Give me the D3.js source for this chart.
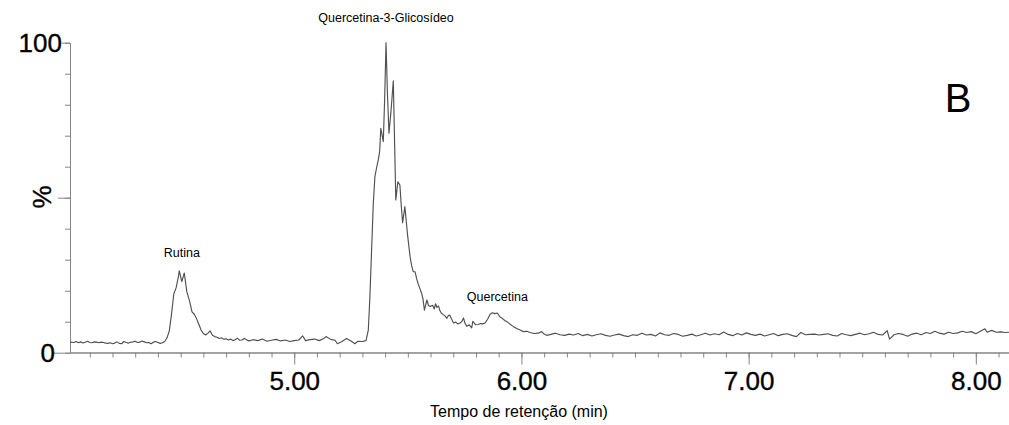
<!DOCTYPE html>
<html>
<head>
<meta charset="utf-8">
<script src="https://cdn.jsdelivr.net/npm/d3@7"></script>
<style>
  body { margin: 0; background: #fff; }
  text { font-family: Arial, "Liberation Sans", sans-serif; fill: #000; }
  .big { stroke: #000; stroke-width: 0.35px; }
</style>
</head>
<body>
<div id="plot"></div>
<script>
// retention time (min) and relative intensity (%)
let times = [
  4.013,4.03,4.04,4.05,4.06,4.07,4.08,4.09,4.10,4.11,4.12,4.13,4.14,4.15,4.16,4.17,4.18,4.19,4.20,4.21,
  4.22,4.23,4.24,4.25,4.26,4.27,4.28,4.29,4.30,4.31,4.32,4.33,4.34,4.35,4.36,4.37,4.38,4.39,4.40,4.41,
  4.42,4.43,4.44,4.45,4.46,4.47,4.48,4.49,4.494,4.505,4.516,4.527,4.54,4.55,4.56,4.57,4.58,4.59,4.60,4.61,
  4.62,4.63,4.64,4.65,4.66,4.67,4.68,4.69,4.70,4.71,4.72,4.73,4.74,4.75,4.76,4.77,4.78,4.79,
  4.80,4.82,4.84,4.86,4.88,4.90,4.92,4.94,4.96,4.98,5.00,5.02,5.037,5.05,5.07,5.09,5.11,5.13,5.14,5.16,
  5.18,5.19,5.21,5.23,5.25,5.267,5.28,5.30,5.316,
  5.326,5.333,5.341,5.348,5.355,5.362,5.370,5.376,5.381,5.392,5.398,5.404,5.410,5.417,5.426,5.436,5.447,5.456,5.465,5.471,
  5.477,5.487,5.498,5.510,5.517,5.524,5.532,5.539,5.546,5.554,5.561,5.567,5.573,5.584,5.591,5.598,5.609,5.616,5.622,5.628,
  5.635,5.641,5.647,5.657,5.664,5.672,5.678,5.684,5.693,5.701,5.710,5.720,5.730,5.738,5.745,5.752,5.760,5.770,5.781,5.786,
  5.799,5.810,5.820,5.830,5.840,5.851,5.862,5.872,5.883,5.894,5.906,5.917,5.928,5.940,5.950,5.965,5.979,5.994,6.008,6.023,
  6.038,6.055,6.074,6.089,6.100,6.111,
  6.13,6.15,6.17,6.19,6.21,6.23,6.25,6.27,6.29,6.31,6.33,6.35,6.37,6.39,6.41,6.43,6.45,6.47,6.49,6.51,
  6.53,6.55,6.57,6.59,6.61,6.63,6.65,6.67,6.69,6.71,6.73,6.75,6.77,6.79,6.81,6.83,6.85,6.87,6.89,6.91,
  6.93,6.95,6.97,6.99,7.01,7.03,7.05,7.07,7.09,7.11,7.13,7.15,7.17,7.19,7.21,7.23,7.25,7.27,7.29,7.31,
  7.33,7.35,7.37,7.39,7.41,7.43,7.45,7.47,7.49,7.51,7.53,7.55,7.57,7.59,7.61,7.62,7.64,7.66,7.68,7.70,
  7.72,7.74,7.76,7.78,7.80,7.82,7.84,7.86,7.88,7.90,7.92,7.94,7.96,7.98,8.00,8.02,8.04,8.05,8.07,8.09,
  8.11,8.13,8.146
];
let intensity = [
  3.4,3.3,3.6,3.2,3.5,3.1,3.4,3.7,3.3,3.2,3.5,3.4,3.2,3.4,3.3,3.1,3.0,3.2,2.9,3.1,
  3.5,3.0,2.9,3.6,3.3,3.1,3.4,3.5,3.7,3.3,3.4,3.8,3.5,3.2,3.3,2.9,3.4,3.6,3.3,3.0,
  3.2,3.6,4.8,7.0,12.5,19.0,20.9,24.5,26.4,22.9,25.7,19.7,16.5,13.2,12.4,11.0,9.2,7.3,6.2,5.7,
  6.3,7.0,5.6,5.2,5.0,4.6,4.8,4.3,4.5,4.1,4.4,3.9,4.2,4.7,4.0,4.1,4.6,4.2,
  3.8,4.2,3.9,4.4,3.7,4.0,4.3,3.8,4.1,3.6,3.9,4.1,5.4,3.9,4.2,4.4,3.9,4.6,5.2,4.3,
  4.0,2.9,3.6,4.6,3.8,2.9,3.7,3.6,3.9,
  7.3,18.0,34.2,48.2,56.8,59.5,62.2,65.0,72.4,68.1,82.0,100,84.0,70.8,78.0,87.7,49.3,55.1,54.1,47.5,
  41.9,47.1,38.5,30.9,28.0,26.1,26.1,23.8,22.1,20.5,19.1,17.2,13.7,17.0,15.2,14.9,15.3,14.1,15.8,14.6,
  15.1,13.6,12.8,12.2,11.8,11.1,11.9,12.2,10.8,9.6,9.9,9.3,9.6,10.1,11.2,9.4,8.5,9.0,8.0,10.1,
  9.0,9.1,9.4,9.3,9.6,10.8,12.4,12.9,12.6,12.8,11.5,11.0,10.3,9.8,9.2,8.4,7.8,7.3,6.8,6.9,
  6.5,6.2,6.3,6.8,6.0,5.6,
  5.9,6.3,5.8,5.6,6.0,5.7,6.2,5.5,5.9,5.4,5.8,6.1,5.6,5.3,5.7,6.0,5.5,5.2,5.8,5.6,
  6.3,5.7,5.9,5.4,6.4,5.8,5.6,6.2,5.9,5.3,5.6,6.0,5.4,5.8,6.3,5.7,6.1,5.8,6.7,5.9,
  5.5,6.2,5.7,6.4,5.9,5.6,6.0,5.4,5.8,6.2,5.5,5.9,6.1,5.6,5.2,6.5,5.8,5.9,6.0,5.7,
  5.9,6.1,5.6,5.4,6.2,5.8,5.5,5.9,6.3,5.8,6.1,6.6,5.9,5.7,7.1,4.4,5.8,6.2,5.9,5.3,
  6.0,6.3,5.8,6.5,6.2,6.9,6.3,6.0,6.6,6.2,6.4,6.9,6.5,6.8,6.1,6.9,7.7,6.6,7.2,6.6,
  6.7,6.5,6.6
];

let xMinorTicks = d3.range(41, 82).map(d => d / 10);
let xMajorTicks = [5, 6, 7, 8];
let yMinorTicks = [0, 10, 20, 30, 40, 50, 60, 70, 80, 90, 100];
let yTickLabels = [0, 100];

let peakNames = ["Rutina", "Quercetina-3-Glicosídeo", "Quercetina"];
let peakTimes = [4.505, 5.404, 5.894];
let peakLabelY = [31, 106.7, 16.6];   // in % units

let svgWidth = 1009;
let svgHeight = 425;

let x = d3.scaleLinear().domain([4.013, 8.146]).range([70, 1009]);
let y = d3.scaleLinear().domain([0, 100]).range([352.7, 42.7]);

let svg = d3.select('#plot')
            .append('svg')
              .attr('width', svgWidth)
              .attr('height', svgHeight);

// x axis: minor ticks, then the long labelled ones
let xMinor = svg.append('g')
    .attr('transform', 'translate(0,352.5)')
    .call(d3.axisBottom(x).tickValues(xMinorTicks).tickSize(5).tickFormat('').tickSizeOuter(0));
let xMajor = svg.append('g')
    .attr('transform', 'translate(0,352.5)')
    .call(d3.axisBottom(x).tickValues(xMajorTicks).tickSize(12).tickFormat(d3.format('.2f')).tickSizeOuter(0));
xMajor.selectAll('text')
    .attr('class', 'big')
    .attr('y', 37).attr('dy', 0)
    .style('font-size', '26px')
    .style('font-family', 'Arial, "Liberation Sans", sans-serif')
    .attr('fill', '#000');

// y axis
let yMinor = svg.append('g')
    .attr('transform', 'translate(70,0)')
    .call(d3.axisLeft(y).tickValues(yMinorTicks).tickSize(5).tickFormat('').tickSizeOuter(0));
let yMid = svg.append('g')
    .attr('transform', 'translate(70,0)')
    .call(d3.axisLeft(y).tickValues([50]).tickSize(12).tickFormat('').tickSizeOuter(0));
let yLow = svg.append('g')
    .attr('transform', 'translate(70,0)')
    .call(d3.axisLeft(y).tickValues([0]).tickSize(16).tickFormat('').tickSizeOuter(0));
let yTop = svg.append('g')
    .attr('transform', 'translate(70,0)')
    .call(d3.axisLeft(y).tickValues([100]).tickSize(8).tickFormat('').tickSizeOuter(0));

svg.selectAll('.domain, .tick line').attr('stroke', '#858585');

svg.selectAll('.ylab')
    .data(yTickLabels)
    .enter()
      .append('text')
      .attr('class', 'ylab big')
      .attr('x', d => d === 0 ? 55 : 62)
      .attr('y', d => y(d) + 9)
      .attr('text-anchor', 'end')
      .style('font-size', '26px')
      .text(d => d);

svg.append('text')
    .attr('class', 'big')
    .attr('transform', 'translate(51,197) rotate(-90)')
    .attr('text-anchor', 'middle')
    .style('font-size', '26px')
    .text('%');

svg.append('text')
    .attr('x', 519).attr('y', 417)
    .attr('text-anchor', 'middle')
    .style('font-size', '16px')
    .text('Tempo de retenção (min)');

// trace
let line = d3.line()
    .x((d, i) => x(times[i]))
    .y(d => y(d));

svg.append('path')
    .datum(intensity)
    .attr('fill', 'none')
    .attr('stroke', '#505050')
    .attr('stroke-width', 1.15)
    .attr('stroke-linejoin', 'round')
    .attr('d', line);

svg.selectAll('.peak')
    .data(peakNames)
    .enter()
      .append('text')
      .attr('class', 'peak')
      .attr('x', (d, i) => x(peakTimes[i]))
      .attr('y', (d, i) => y(peakLabelY[i]))
      .attr('text-anchor', 'middle')
      .style('font-size', '12.5px')
      .text(d => d);

svg.append('text')
    .attr('x', 958).attr('y', 112)
    .attr('text-anchor', 'middle')
    .style('font-size', '40px')
    .text('B');
</script>
</body>
</html>
